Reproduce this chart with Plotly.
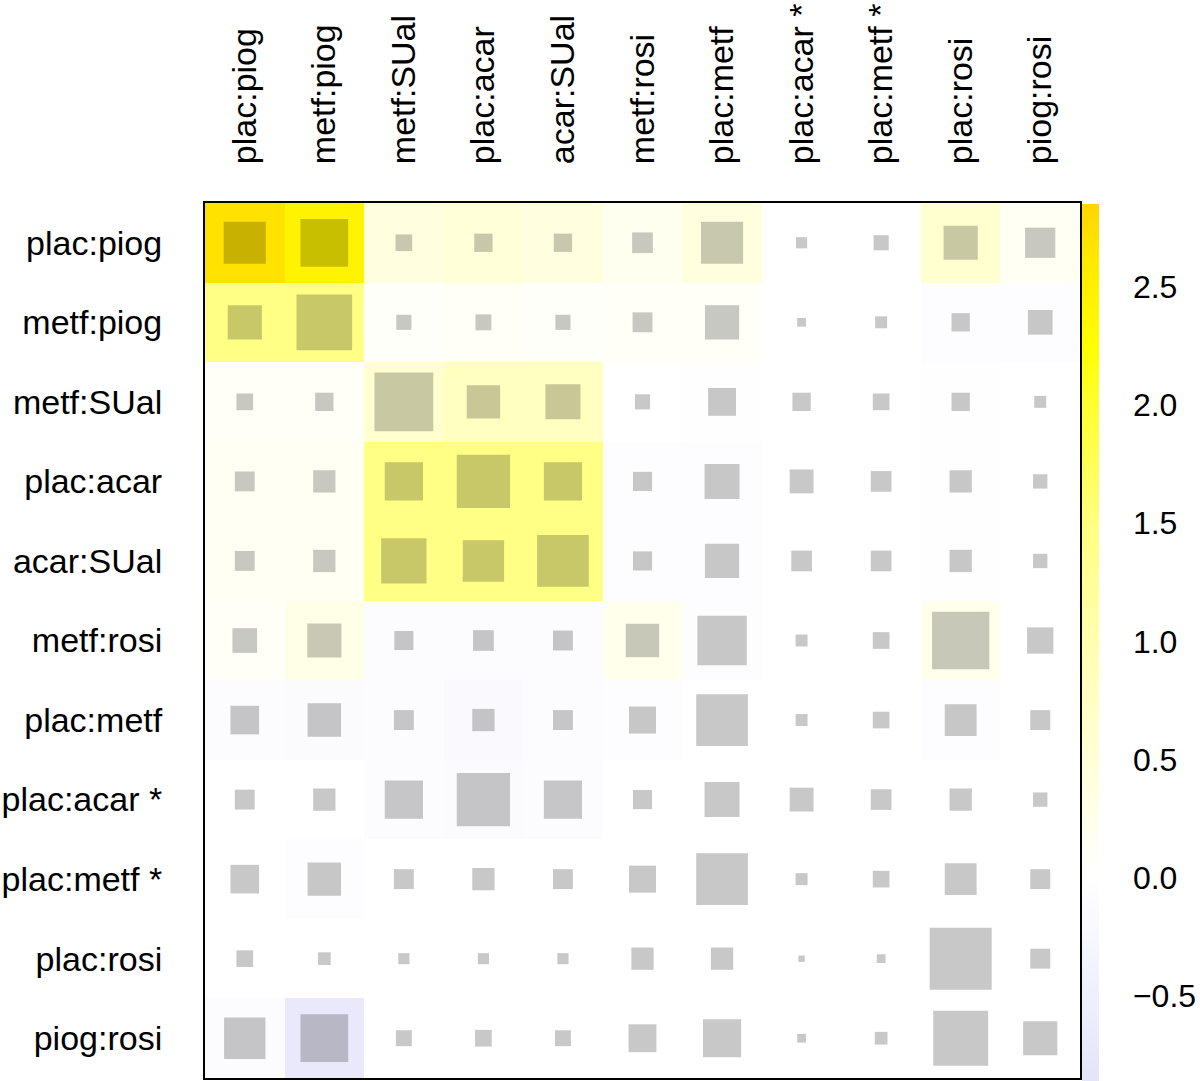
import plotly.graph_objects as go

# ---------------- data ----------------
labels = ["plac:piog", "metf:piog", "metf:SUal", "plac:acar", "acar:SUal",
          "metf:rosi", "plac:metf", "plac:acar *", "plac:metf *", "plac:rosi", "piog:rosi"]

# heat values (colour of each cell), rows top->bottom, columns left->right
z_values = [
    [2.70, 2.45, 0.40, 0.50, 0.40, 0.20, 0.40, 0.00, 0.00, 0.60, 0.15],
    [1.45, 1.45, 0.08, 0.12, 0.08, 0.10, 0.10, 0.00, 0.00, -0.05, -0.05],
    [0.10, 0.10, 0.60, 0.80, 0.80, 0.00, -0.03, 0.00, 0.00, -0.03, 0.00],
    [0.15, 0.15, 1.45, 1.45, 1.45, -0.05, -0.05, 0.00, 0.00, -0.03, 0.00],
    [0.15, 0.15, 1.45, 1.45, 1.45, -0.05, -0.05, 0.00, 0.00, -0.03, 0.00],
    [0.10, 0.30, -0.10, -0.10, -0.10, 0.25, -0.05, 0.00, 0.00, 0.25, 0.00],
    [-0.10, -0.12, -0.08, -0.15, -0.08, -0.05, 0.00, 0.00, 0.00, -0.05, 0.00],
    [0.00, 0.00, -0.08, -0.12, -0.08, 0.00, 0.00, 0.00, 0.00, 0.00, 0.00],
    [0.00, -0.05, 0.00, 0.00, 0.00, 0.00, 0.00, 0.00, 0.00, 0.00, 0.00],
    [0.00, 0.00, 0.00, 0.00, 0.00, 0.00, 0.00, 0.00, 0.00, 0.00, 0.00],
    [-0.10, -0.70, 0.00, 0.00, 0.00, 0.00, 0.00, 0.00, 0.00, 0.00, 0.00],
]

# relative size of grey square in each cell (fraction of cell width)
square_weights = [
    [0.53, 0.60, 0.21, 0.23, 0.23, 0.26, 0.53, 0.14, 0.19, 0.43, 0.38],
    [0.43, 0.70, 0.19, 0.20, 0.19, 0.25, 0.43, 0.11, 0.15, 0.23, 0.31],
    [0.21, 0.23, 0.74, 0.42, 0.44, 0.19, 0.35, 0.23, 0.21, 0.23, 0.15],
    [0.25, 0.28, 0.48, 0.67, 0.48, 0.24, 0.44, 0.30, 0.26, 0.28, 0.18],
    [0.25, 0.28, 0.57, 0.52, 0.65, 0.24, 0.43, 0.26, 0.26, 0.28, 0.18],
    [0.31, 0.43, 0.24, 0.26, 0.25, 0.42, 0.62, 0.15, 0.21, 0.72, 0.33],
    [0.36, 0.42, 0.25, 0.28, 0.25, 0.34, 0.65, 0.15, 0.21, 0.40, 0.25],
    [0.25, 0.28, 0.48, 0.67, 0.48, 0.24, 0.44, 0.30, 0.26, 0.28, 0.18],
    [0.36, 0.42, 0.25, 0.28, 0.25, 0.34, 0.65, 0.15, 0.21, 0.40, 0.25],
    [0.21, 0.16, 0.14, 0.14, 0.14, 0.28, 0.28, 0.08, 0.11, 0.78, 0.25],
    [0.52, 0.60, 0.20, 0.21, 0.20, 0.35, 0.48, 0.11, 0.16, 0.69, 0.43],
]

z_min, z_max = -0.86, 2.85
colorbar_ticks = [-0.5, 0.0, 0.5, 1.0, 1.5, 2.0, 2.5]

# ---------------- styling ----------------
scale_values = [-0.86, 0.0, 1.0, 1.5, 2.0, 2.25, 2.6, 2.85]
scale_colors = ["#E4E4FA", "#FFFFFF", "#FFFFB0", "#FFFF80", "#FFFF30",
                "#FFFF00", "#FFEA00", "#FFD600"]

span = z_max - z_min
colorscale = []
for i, (v, c) in enumerate(zip(scale_values, scale_colors)):
    t = (v - z_min) / span
    if i == 0:
        t = 0.0
    if i == len(scale_values) - 1:
        t = 1.0
    colorscale.append([round(t, 6), c])


def hex_rgb(h):
    h = h.lstrip("#")
    return tuple(int(h[k:k + 2], 16) for k in (0, 2, 4))


def value_color(v):
    v = min(max(v, z_min), z_max)
    for j in range(len(scale_values) - 1):
        a, b = scale_values[j], scale_values[j + 1]
        if a <= v <= b:
            f = (v - a) / (b - a) if b > a else 0
            c1, c2 = hex_rgb(scale_colors[j]), hex_rgb(scale_colors[j + 1])
            return tuple(c1[k] + f * (c2[k] - c1[k]) for k in range(3))
    return hex_rgb(scale_colors[-1])


DARKEN = 0.784  # grey squares darken the underlying cell colour

W, H = 1200, 1081
ML, MT = 205, 203
PLOT_RIGHT, PLOT_BOTTOM = 1080, 1078
paper_w = W - ML
paper_h = H - MT
plot_w = PLOT_RIGHT - ML
plot_h = PLOT_BOTTOM - MT
cell_px = plot_w / len(labels)

xs, ys, sizes, cols = [], [], [], []
for r, rl in enumerate(labels):
    for c, cl in enumerate(labels):
        xs.append(cl)
        ys.append(rl)
        sizes.append(square_weights[r][c] * cell_px)
        rgb = value_color(z_values[r][c])
        cols.append("rgb(%d,%d,%d)" % tuple(round(x * DARKEN) for x in rgb))

FONT = "Liberation Sans, Arial, Helvetica, sans-serif"

fig = go.Figure()
fig.add_trace(go.Heatmap(
    z=z_values, x=labels, y=labels,
    zmin=z_min, zmax=z_max, colorscale=colorscale,
    hoverinfo="skip",
    colorbar=dict(
        x=(1082 - ML) / paper_w, xanchor="left", xpad=0,
        y=0.0, yanchor="bottom", len=(1080 - MT) / paper_h, lenmode="fraction", ypad=0,
        thickness=17, outlinewidth=0,
        tickvals=colorbar_ticks, tickformat=".1f",
        ticks="outside", ticklen=28, tickcolor="rgba(0,0,0,0)",
        tickfont=dict(family=FONT, size=32, color="black"),
    ),
))
fig.add_trace(go.Scatter(
    x=xs, y=ys, mode="markers",
    marker=dict(symbol="square", size=sizes, color=cols, opacity=1,
                line=dict(width=0)),
    hoverinfo="skip", showlegend=False,
))

fig.update_layout(
    width=W, height=H,
    margin=dict(l=ML, r=0, t=MT, b=0, autoexpand=False),
    plot_bgcolor="white", paper_bgcolor="white",
    font=dict(family=FONT, color="black"),
)
fig.update_xaxes(
    domain=[0, plot_w / paper_w],
    side="top", tickangle=-90, tickfont=dict(size=34),
    ticks="outside", ticklen=30, tickcolor="rgba(0,0,0,0)",
    showgrid=False, zeroline=False, automargin=False,
    showline=True, mirror=True, linecolor="black", linewidth=2,
    range=[-0.5, len(labels) - 0.5],
    categoryorder="array", categoryarray=labels,
)
fig.update_yaxes(
    domain=[(H - PLOT_BOTTOM) / paper_h, 1],
    tickfont=dict(size=34),
    ticks="outside", ticklen=34, tickcolor="rgba(0,0,0,0)",
    showgrid=False, zeroline=False, automargin=False,
    showline=True, mirror=True, linecolor="black", linewidth=2,
    range=[len(labels) - 0.5, -0.5],
    categoryorder="array", categoryarray=labels,
)

fig.write_html("out.html",
               config={"displayModeBar": False},
               post_script="document.body.style.margin='0';document.body.style.overflow='hidden';")
